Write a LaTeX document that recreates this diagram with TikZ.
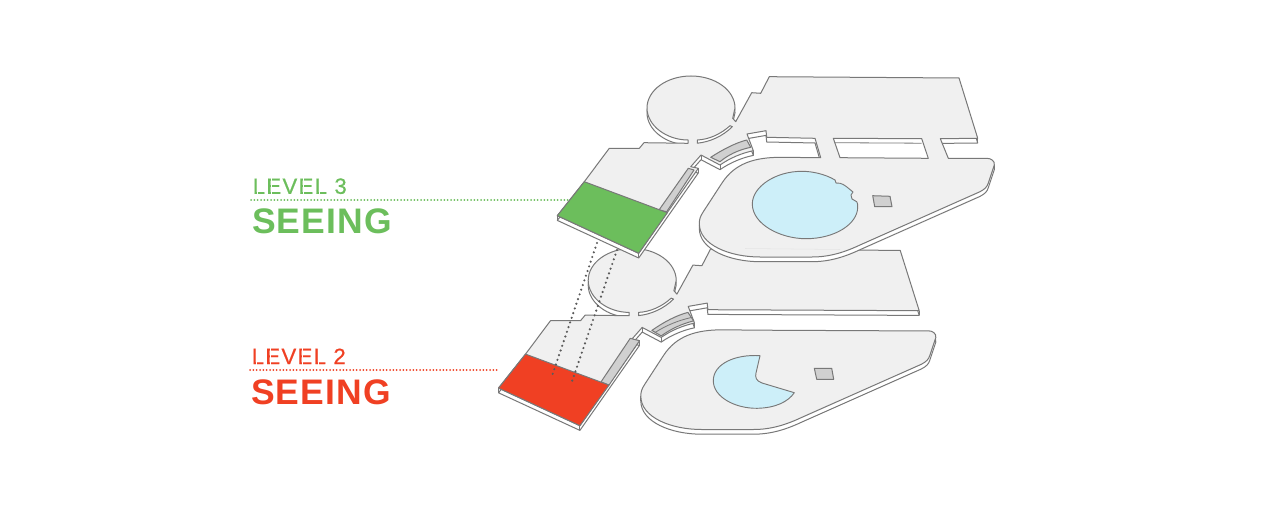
\documentclass[tikz,border=0pt]{standalone}
\usepackage{fontspec}
\setmainfont{Liberation Sans}
\newfontfamily\lvlfont[LetterSpace=6,FakeBold=0.6]{Liberation Sans}
\newfontfamily\seefont[LetterSpace=3]{Liberation Sans}
\definecolor{floorc}{HTML}{F0F0F0}
\definecolor{edgec}{HTML}{787878}
\definecolor{rampc}{HTML}{D0D0D0}
\definecolor{poolc}{HTML}{CDEFF9}
\definecolor{grn}{HTML}{6CBE5C}
\definecolor{rd}{HTML}{F04023}
\definecolor{dotc}{HTML}{5A5A5A}
\tikzset{
  x=0.75pt,y=-0.75pt,
  topf/.style={fill=floorc,draw=edgec,line width=0.75pt,line join=round},
  wall/.style={fill=white,draw=edgec,line width=0.75pt,line join=round},
  ramp/.style={fill=rampc,draw=edgec,line width=0.75pt,line join=round},
  pool/.style={fill=poolc,draw=edgec,line width=0.7pt,line join=round},
  plate/.style={fill=#1,draw=edgec,line width=0.75pt,line join=round},
  post/.style={draw=edgec,line width=0.75pt},
  link/.style={draw=dotc,line width=1.8pt,line cap=round,dash pattern=on 0pt off 3.7pt},
  leader/.style={draw=#1,line width=1.5pt,line cap=round,dash pattern=on 0pt off 2.5pt},
  lvl/.style={anchor=base west,inner sep=0pt,font=\lvlfont\fontsize{16.6}{18}\selectfont},
  see/.style={anchor=base west,inner sep=0pt,font=\seefont\bfseries\fontsize{26.6}{28}\selectfont},
  slit/.style={draw=white,line width=0.3pt},
}
\def\circpart{(732.7,118.3) -- (735,108) .. controls (735,90.3) and (715.3,76) .. (691,76) .. controls (666.7,76) and (647,90.3) .. (647,108) .. controls (647,125.7) and (666.7,140) .. (688,140) -- (688,143.3) -- (644,142.7) -- (639.3,148.3) -- (609.3,148.3) -- (584.3,181.7) -- (557.3,215.7) -- (638.7,253.3) -- (698.3,168.3) -- (690.7,166.7) -- (701,155) -- (720,165) .. controls (730,158) and (742,153) .. (753.3,150.7) -- (747,134) -- (766,130.7) -- (766.7,137.3)}
\def\islandpart{(820.7,157.7) -- (780,157.3) .. controls (755,157.5) and (735,163) .. (722,183) -- (703.3,211.7) .. controls (700.5,216) and (699.3,219) .. (699.3,223.3) .. controls (699,245) and (730,257) .. (760,257) -- (812,257) .. controls (830,257) and (845,252) .. (860,245) -- (980,191.7) .. controls (985,189) and (987,187) .. (988.3,183) -- (994.3,165) .. controls (995,161) and (991,158.3) .. (986.7,158.3) -- (948.3,158.3)}
\def\blocktop{(769.3,76.7) -- (760.7,93.3) -- (751.7,92.7) -- (735.7,121.7)}
\def\silThree{\circpart -- (815,138.3) -- \islandpart -- (940.3,138.7) -- (977.7,138.3) -- (959,78) -- \blocktop -- cycle}
% vertical corner edges of a floor slab
\def\leftposts{\draw[post] (557.3,215.7) -- ++(0,4.7); \draw[post] (638.7,253.3) -- ++(0,4.7); \draw[post] (698.3,168.3) -- ++(0,4.7); \draw[post] (647,108) -- ++(0,4.7); \draw[post] (753.3,150.7) -- ++(0,4.7); \draw[post] (720,165) -- ++(0,4.7); \draw[post] (701,155) -- ++(0,4.7);}
\def\islandposts{\draw[post] (699.3,223.3) -- ++(0,4.7); \draw[post] (994.3,165) -- ++(0,4.7);}
\begin{document}
\begin{tikzpicture}
\path[fill=white] (0,0) rectangle (1276,520);
\useasboundingbox (0,0) rectangle (1276,520);

% ---------- LEVEL 2 ----------
\begin{scope}[shift={(-58.8,172.4)}]
 \path[wall,shift={(0,4.7)}] \circpart -- (978,138.3) -- (959,78) -- \blocktop -- cycle;
 \leftposts
 \draw[post] (978,138.3) -- ++(0,4.7);
 \path[topf] \circpart -- (978,138.3) -- (959,78) -- \blocktop -- cycle;
 \path[wall] (697.3,140) .. controls (709,139.5) and (721,134) .. (730,125.7) -- (732.3,126.7) .. controls (723,136) and (710,142) .. (697.3,143.2) -- cycle;
 \path[ramp] (710.7,158) .. controls (722,150) and (735,143) .. (746.7,140) -- (752.5,148.5) .. controls (740,151.5) and (729,157) .. (720,163.5) -- cycle;
 \path[draw=edgec,line width=0.6pt] (714,160) .. controls (725,153) and (737,148) .. (750.5,145);
 \path[ramp] (659.8,209.5) -- (689,166) -- (698.3,168.3) -- (667.8,212.7) -- cycle;
 \path[plate=rd] (584.3,181.7) -- (667.8,212.7) -- (638.7,253.3) -- (557.3,215.7) -- cycle;
\end{scope}
\begin{scope}[shift={(-58.5,172.5)}]
 \path[wall,shift={(0,4.7)}] \islandpart -- cycle;
 \islandposts
 \path[topf] \islandpart -- cycle;
\end{scope}
\path[pool] (760,355.7) .. controls (735,354) and (713,364) .. (713.3,381) .. controls (713.5,397) and (735,408.5) .. (757,408.3) .. controls (775,408) and (788,402) .. (794.3,392.7) -- (762,383) .. controls (756,381) and (755,377) .. (756,373) -- cycle;
\path[ramp] (814.3,368.3) -- (831.7,368.3) -- (833.7,379.3) -- (816.7,379.3) -- cycle;

% dotted links
\coordinate (d1a) at (597,243);
\coordinate (d1b) at (552.3,375);
\coordinate (d2a) at (617,250);
\coordinate (d2b) at (571,384.3);
\draw[link] (d1a) -- (d1b);
\draw[link] (d2a) -- (d2b);

% ---------- LEVEL 3 ----------
\path[wall,shift={(0,4.7)}] \silThree;
\leftposts
\islandposts
\draw[post] (977.7,138.3) -- ++(0,4.7);
\draw[post] (940.3,138.7) -- ++(0,4.7);
\path[topf] \silThree;
\draw[draw=black!10,line width=0.4pt] (745,248.5) -- (840,249.5);
\begin{scope}
 \path[wall] (833.3,138.3) -- (921.7,138.7) -- (928.3,158.3) -- (840,157.7) -- cycle;
 \clip (833.3,138.3) -- (921.7,138.7) -- (928.3,158.3) -- (840,157.7) -- cycle;
 \draw[edgec,line width=0.6pt] (833.3,142.7) -- (921.7,143.2);
\end{scope}
\path[wall] (697.3,140) .. controls (709,139.5) and (721,134) .. (730,125.7) -- (732.3,126.7) .. controls (723,136) and (710,142) .. (697.3,143.2) -- cycle;
\path[ramp] (710.7,157.3) .. controls (722,150) and (735,143) .. (746.7,140) -- (750.7,147.3) .. controls (738,150) and (728,155) .. (720,161.7) -- cycle;
\path[ramp] (659,210) -- (688.3,168.3) -- (694,170) -- (666.7,211.7) -- cycle;
\path[plate=grn] (584.3,181.7) -- (667.3,212.7) -- (638.7,253.3) -- (557.3,215.7) -- cycle;
\path[pool] (835,180) .. controls (825,174) and (812,171.3) .. (802,171.3) .. controls (775,171.3) and (752.3,187) .. (752.3,204) .. controls (752.3,224) and (780,238.7) .. (806,238.7) .. controls (835,238.7) and (857.7,224) .. (857.7,207) .. controls (857.7,204) and (857.5,203) .. (856.7,201.7) -- (852,199) -- (851,195) -- (853,192) .. controls (848,188) and (844,184) .. (840,183.3) -- (836,183) -- cycle;
\path[ramp] (872.7,195.7) -- (890,196.3) -- (892,206.7) -- (874.7,206.7) -- cycle;

% ---------- LABELS ----------
\coordinate (g0) at (251,200);
\coordinate (g1) at (568,200);
\coordinate (r0) at (250,370);
\coordinate (r1) at (499,370);
\draw[leader=grn] (g0) -- (g1);
\draw[leader=rd] (r0) -- (r1);
\node[lvl,text=grn] (l3) at (252.5,193.8) {LEVEL 3};
\node[see,text=grn] (s3) at (252,233.6) {SEEING};
\node[lvl,text=rd] (l2) at (251.5,364) {LEVEL 2};
\node[see,text=rd] (s2) at (251,404) {SEEING};
% stencil breaks in the light lettering
\foreach \sx in {256.9,270.7,302.9,318.8} {
  \draw[slit] (\sx,177) -- (\sx,195);
  \draw[slit] (\sx-1,347.2) -- (\sx-1,365.2);
}
\end{tikzpicture}
\end{document}
